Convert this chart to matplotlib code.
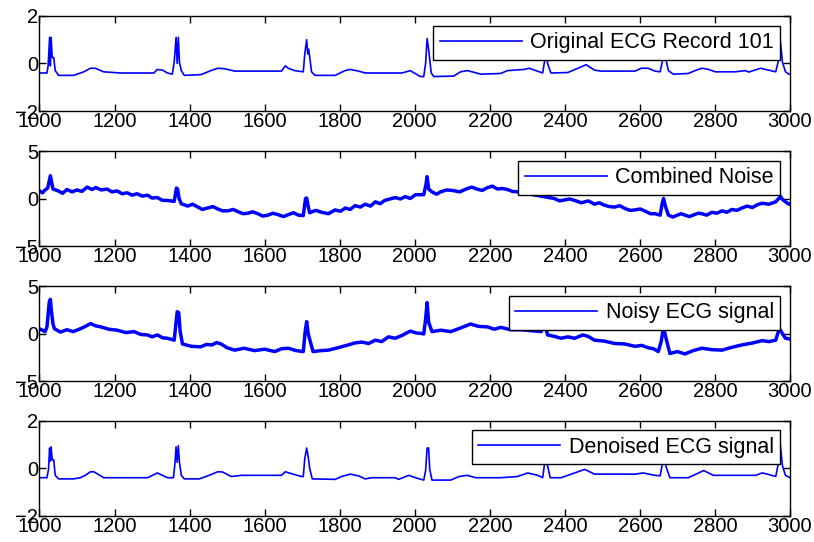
import numpy as np
import matplotlib
matplotlib.use('Agg')
import matplotlib.pyplot as plt

plt.rcParams['font.family'] = ['Liberation Sans', 'DejaVu Sans']

# Original ECG record 101 (key points)
ecg_x = [1000, 1020, 1023, 1027, 1029, 1031, 1034, 1038, 1042, 1051, 1091, 1118, 1136, 1149, 1171, 1216,
         1305, 1314, 1328, 1341, 1354, 1359, 1364, 1367, 1370, 1373, 1378, 1386, 1430, 1457, 1475, 1493,
         1520, 1645, 1655, 1663, 1680, 1703, 1707, 1712, 1715, 1717, 1720, 1725, 1734, 1788, 1814, 1828,
         1850, 1868, 1966, 1988, 2015, 2024, 2029, 2033, 2037, 2044, 2051, 2104, 2122, 2140, 2153, 2176,
         2229, 2247, 2292, 2305, 2332, 2341, 2346, 2350, 2354, 2363, 2408, 2435, 2457, 2479, 2497, 2587,
         2604, 2622, 2640, 2654, 2660, 2664, 2669, 2676, 2689, 2729, 2747, 2765, 2783, 2801, 2854, 2881,
         2890, 2922, 2935, 2962, 2969, 2974, 2980, 2988, 2997, 3006]
ecg_y = [-0.4, -0.4, -0.1, 1.1, -0.1, 1.1, 0.25, 0.25, -0.3, -0.5, -0.5, -0.35, -0.2, -0.2, -0.35, -0.4,
         -0.4, -0.25, -0.28, -0.4, -0.45, 0.05, 1.1, 0.0, 1.1, 0.05, -0.3, -0.5, -0.47, -0.3, -0.2, -0.22,
         -0.32, -0.32, -0.1, -0.2, -0.3, -0.35, 0.4, 1.0, 0.4, 0.6, 0.3, -0.35, -0.5, -0.5, -0.3, -0.25,
         -0.32, -0.4, -0.4, -0.3, -0.55, -0.55, 0.0, 1.05, 0.6, -0.4, -0.55, -0.53, -0.35, -0.3, -0.35, -0.45,
         -0.42, -0.3, -0.25, -0.2, -0.35, -0.4, 0.1, 1.1, 0.0, -0.4, -0.38, -0.2, -0.05, -0.28, -0.32, -0.32,
         -0.2, -0.2, -0.32, -0.35, 0.1, 1.0, 0.2, -0.3, -0.45, -0.42, -0.3, -0.2, -0.25, -0.35, -0.35, -0.3,
         -0.36, -0.2, -0.25, -0.35, 0.1, 1.0, 0.05, -0.35, -0.45, -0.45]

# Combined noise (baseline wander with small beat spikes)
noise_x = [1000, 1008, 1015, 1022, 1029, 1036, 1050, 1062, 1073, 1087, 1100, 1113, 1127, 1140, 1150, 1165,
           1180, 1193, 1207, 1220, 1234, 1247, 1260, 1274, 1288, 1300, 1314, 1328, 1341, 1359, 1365, 1368,
           1372, 1378, 1395, 1408, 1420, 1434, 1448, 1462, 1475, 1488, 1502, 1516, 1530, 1543, 1555, 1568,
           1582, 1595, 1609, 1622, 1636, 1650, 1663, 1677, 1690, 1703, 1709, 1712, 1716, 1720, 1736, 1752,
           1770, 1788, 1802, 1815, 1828, 1841, 1855, 1868, 1882, 1895, 1908, 1920, 1934, 1948, 1962, 1975,
           1988, 2002, 2024, 2030, 2033, 2037, 2046, 2058, 2069, 2085, 2100, 2120, 2140, 2152, 2165, 2180,
           2194, 2207, 2220, 2234, 2247, 2260, 2274, 2288, 2300, 2315, 2330, 2350, 2372, 2386, 2400, 2413,
           2426, 2444, 2462, 2470, 2479, 2492, 2505, 2519, 2533, 2546, 2560, 2574, 2587, 2601, 2615, 2628,
           2640, 2654, 2659, 2663, 2668, 2676, 2688, 2700, 2710, 2720, 2732, 2745, 2755, 2765, 2778, 2792,
           2805, 2819, 2832, 2845, 2858, 2872, 2886, 2900, 2913, 2926, 2944, 2962, 2970, 2975, 2980, 2988,
           2997, 3006]
noise_y = [0.8, 0.6, 0.9, 1.1, 2.4, 1.0, 0.8, 0.55, 0.95, 0.7, 0.9, 0.75, 1.2, 0.95, 1.15, 0.9,
           1.0, 0.7, 0.8, 0.5, 0.6, 0.35, 0.5, 0.25, 0.35, 0.05, 0.1, -0.2, -0.2, -0.3, 1.1, 1.0,
           0.0, -0.55, -0.8, -0.6, -0.85, -1.15, -1.0, -0.85, -1.1, -1.3, -1.3, -1.15, -1.4, -1.6, -1.55, -1.4,
           -1.6, -1.85, -1.75, -1.55, -1.7, -1.9, -1.7, -1.5, -1.75, -1.8, 0.0, 0.05, -0.8, -1.5, -1.25, -1.45,
           -1.6, -1.2, -1.35, -1.0, -1.15, -0.75, -0.9, -0.6, -0.8, -0.35, -0.55, -0.2, -0.05, 0.1, -0.05, 0.2,
           0.0, 0.4, 0.4, 1.5, 2.3, 1.0, 0.7, 0.45, 0.7, 0.9, 0.85, 0.7, 1.05, 1.2, 1.0, 0.85,
           1.15, 1.3, 1.0, 1.05, 0.95, 0.75, 0.7, 0.8, 0.55, 0.4, 0.3, 0.15, 0.0, -0.25, -0.15, -0.05,
           -0.2, -0.45, -0.25, -0.4, -0.6, -0.45, -0.7, -0.85, -0.9, -0.75, -1.05, -1.25, -1.2, -1.1, -1.35, -1.6,
           -1.6, -1.75, -0.6, 0.0, -0.8, -1.75, -1.95, -1.75, -1.6, -1.75, -1.9, -1.7, -1.55, -1.6, -1.75, -1.45,
           -1.55, -1.3, -1.45, -1.15, -1.25, -1.0, -0.8, -0.95, -0.65, -0.5, -0.6, -0.35, 0.0, 0.2, -0.1, -0.35,
           -0.6, -0.4]

# Noisy ECG signal
noisy_x = [1000, 1015, 1020, 1026, 1029, 1032, 1036, 1040, 1056, 1073, 1090, 1109, 1122, 1136, 1150, 1163,
           1185, 1207, 1230, 1252, 1270, 1288, 1300, 1314, 1328, 1341, 1359, 1363, 1367, 1371, 1375, 1381,
           1405, 1430, 1445, 1460, 1472, 1484, 1500, 1520, 1545, 1573, 1600, 1627, 1645, 1663, 1684, 1703,
           1708, 1712, 1716, 1720, 1729, 1750, 1770, 1795, 1823, 1840, 1859, 1877, 1895, 1912, 1930, 1948,
           1966, 1988, 2005, 2020, 2024, 2029, 2033, 2037, 2046, 2070, 2096, 2120, 2149, 2170, 2194, 2212,
           2229, 2255, 2283, 2310, 2337, 2343, 2348, 2354, 2372, 2390, 2408, 2426, 2448, 2462, 2479, 2505,
           2533, 2560, 2587, 2605, 2622, 2636, 2649, 2657, 2663, 2669, 2680, 2700, 2720, 2742, 2765, 2792,
           2819, 2845, 2872, 2900, 2926, 2944, 2962, 2969, 2975, 2981, 2988, 2997, 3006]
noisy_y = [0.5, 0.2, 0.7, 3.3, 3.6, 2.3, 1.0, 0.5, 0.15, 0.4, 0.2, 0.5, 0.75, 1.05, 0.8, 0.7,
           0.45, 0.35, 0.1, 0.2, -0.1, -0.15, -0.35, -0.15, -0.45, -0.5, -0.7, 0.8, 2.3, 2.2, 0.2, -1.1,
           -1.35, -1.4, -1.15, -1.2, -0.95, -1.1, -1.5, -1.75, -1.55, -1.8, -1.65, -1.9, -1.6, -1.55, -1.8, -1.9,
           0.2, 1.25, 0.0, -0.6, -1.9, -1.8, -1.75, -1.5, -1.2, -1.0, -0.9, -1.05, -0.7, -0.85, -0.35, -0.5,
           -0.2, 0.25, 0.05, 0.0, -0.05, 1.5, 3.25, 1.2, 0.2, 0.35, 0.2, 0.55, 1.0, 0.75, 0.7, 0.45,
           0.65, 0.4, 0.4, 0.3, 0.2, 1.0, 0.8, -0.15, -0.3, -0.5, -0.35, -0.5, -0.15, -0.3, -0.7, -0.8,
           -1.05, -1.1, -1.35, -1.25, -1.5, -1.6, -1.9, -0.8, 0.7, -0.4, -2.1, -1.9, -2.15, -1.8, -1.55, -1.7,
           -1.75, -1.45, -1.2, -1.0, -0.75, -0.85, -0.7, 0.2, 0.35, -0.1, -0.5, -0.55, -0.7]

# Denoised ECG signal
den_x = [1000, 1020, 1024, 1027, 1029, 1031, 1034, 1038, 1042, 1051, 1091, 1109, 1122, 1136, 1145, 1171,
         1288, 1314, 1341, 1357, 1361, 1364, 1367, 1370, 1373, 1378, 1386, 1426, 1452, 1475, 1488, 1511,
         1538, 1645, 1655, 1676, 1698, 1703, 1707, 1712, 1716, 1720, 1727, 1788, 1805, 1828, 1850, 1868,
         1886, 1948, 1957, 1984, 2006, 2024, 2029, 2033, 2037, 2040, 2046, 2096, 2118, 2140, 2163, 2229,
         2274, 2301, 2328, 2341, 2346, 2350, 2354, 2361, 2390, 2426, 2453, 2479, 2587, 2609, 2640, 2654,
         2660, 2664, 2669, 2680, 2729, 2770, 2796, 2908, 2926, 2940, 2962, 2969, 2974, 2980, 2988, 3006]
den_y = [-0.4, -0.4, -0.05, 0.85, 0.3, 0.9, 0.35, 0.35, -0.3, -0.45, -0.45, -0.4, -0.3, -0.15, -0.15, -0.4,
         -0.4, -0.2, -0.4, -0.4, 0.2, 0.9, 0.25, 0.95, 0.25, -0.3, -0.45, -0.45, -0.3, -0.15, -0.16, -0.35,
         -0.3, -0.3, -0.15, -0.25, -0.35, -0.35, 0.4, 0.85, 0.5, 0.0, -0.45, -0.47, -0.35, -0.25, -0.32, -0.45,
         -0.4, -0.4, -0.47, -0.3, -0.42, -0.5, -0.1, 0.85, 0.85, -0.05, -0.5, -0.5, -0.35, -0.3, -0.4, -0.4,
         -0.35, -0.2, -0.3, -0.4, 0.2, 1.0, 0.1, -0.4, -0.4, -0.2, -0.05, -0.25, -0.25, -0.2, -0.3, -0.32,
         0.2, 1.0, 0.1, -0.4, -0.4, -0.1, -0.3, -0.3, -0.2, -0.25, -0.35, 0.2, 1.0, 0.1, -0.3, -0.45]

panels = [
    (ecg_x, ecg_y, 'Original ECG Record 101', 2, 1.2),
    (noise_x, noise_y, 'Combined Noise', 5, 2.5),
    (noisy_x, noisy_y, 'Noisy ECG signal', 5, 2.5),
    (den_x, den_y, 'Denoised ECG signal', 2, 1.2),
]
xticks = np.arange(1000, 3001, 200)

fig = plt.figure(figsize=(8.14, 5.42), dpi=100)
bottoms = [0.7952, 0.5461, 0.2970, 0.0485]
for (x, y, label, lim, lw), b in zip(panels, bottoms):
    ax = fig.add_axes([0.0485, b, 0.922, 0.1753])
    ax.plot(x, y, color='#0000ff', lw=lw, label=label)
    ax.set_xlim(1000, 3000)
    ax.set_ylim(-lim, lim)
    ax.set_xticks(xticks)
    ax.set_yticks([-lim, 0, lim])
    ax.tick_params(direction='in', top=True, right=True, length=5, labelsize=14.5, pad=1, width=1.0)
    for s in ax.spines.values():
        s.set_linewidth(1.0)
    leg = ax.legend(loc='upper right', fontsize=15.5, handlelength=3.8, handletextpad=0.4,
                    fancybox=False, edgecolor='black', framealpha=1,
                    borderaxespad=0.45, borderpad=0.3)
    leg.get_frame().set_linewidth(1.0)
    leg.get_lines()[0].set_linewidth(1.2)

plt.savefig('out.png', dpi=100)
